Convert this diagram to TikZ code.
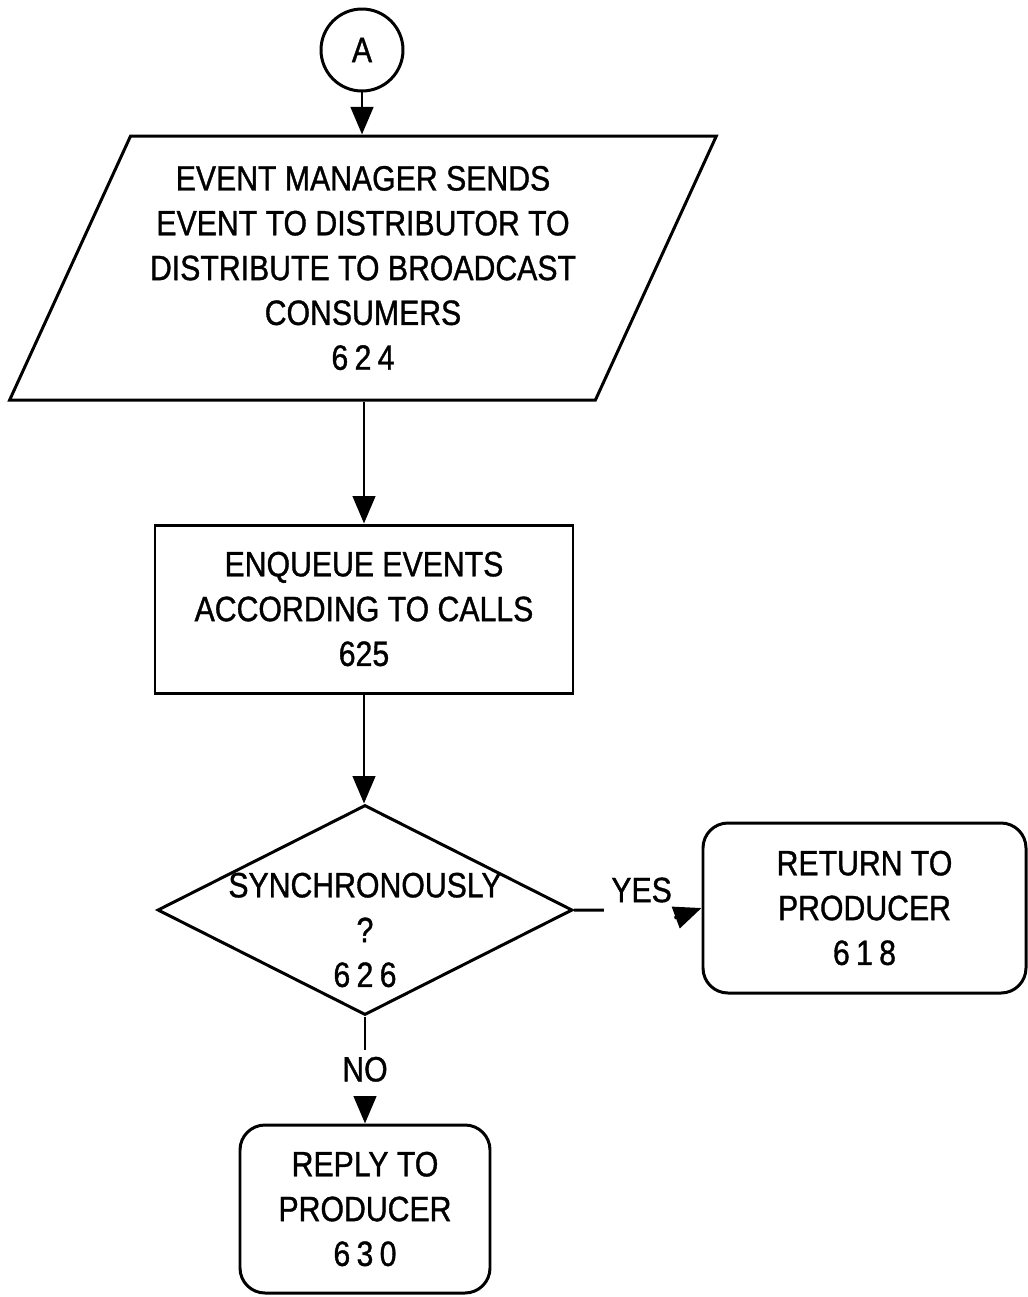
\documentclass[tikz,border=0pt]{standalone}
\usepackage{fontspec}
\setmainfont{Liberation Sans}[FakeStretch=0.86,FakeBold=1]
\usepackage{tikz}
\usetikzlibrary{shapes.geometric,arrows.meta}

\newcommand{\spacednum}[1]{{\addfontfeature{LetterSpace=18}#1}}

\begin{document}
\begin{tikzpicture}[
    line width=1.7pt,
    font=\fontsize{20}{25.5}\selectfont,
    arr/.style={-{Triangle[length=0.55cm,width=0.45cm]}},
    io/.style={trapezium,trapezium left angle=61.5,trapezium right angle=118.5,
      trapezium stretches=true,draw,align=center,inner sep=0pt},
    proc/.style={rectangle,draw,align=center,inner sep=0pt},
    term/.style={rectangle,rounded corners=0.5cm,draw,align=center,inner sep=0pt},
    decision/.style={diamond,draw,inner sep=0pt}
  ]
      \useasboundingbox (0,0) rectangle (20.56,-25.94);

      \node[circle,draw=black,minimum size=1.64cm,inner sep=0pt] (conn) at (7.24,-1.0){A};
      \node[io,minimum width=14.2cm,minimum height=5.28cm] (send) at (7.26,-5.36)
        {EVENT MANAGER SENDS\\EVENT TO DISTRIBUTOR TO\\DISTRIBUTE TO BROADCAST\\CONSUMERS\\\spacednum{624}};
      \node[proc,minimum width=8.36cm,minimum height=3.36cm] (enq) at (7.28,-12.18)
        {ENQUEUE EVENTS\\ACCORDING TO CALLS\\625};
      \node[decision,minimum width=8.3cm,minimum height=4.2cm,
        label={[yshift=-0.4cm,align=center]center:SYNCHRONOUSLY\\?\\\spacednum{626}}] (sync) at (7.3,-18.2){};
      \node[term,minimum width=6.46cm,minimum height=3.4cm] (ret) at (17.29,-18.16)
        {RETURN TO\\PRODUCER\\\spacednum{618}};
      \node[term,minimum width=5cm,minimum height=3.36cm] (reply) at (7.3,-24.18)
        {REPLY TO\\PRODUCER\\\spacednum{630}};

      \draw[arr] (conn) -- (conn |- send.north);
      \draw[arr] (send.south -| enq.north) -- (enq);
      \draw[arr] (enq) -- (enq |- sync.north);
      \draw[arr] (sync.east) -- ++(0.6,0) node[anchor=west,yshift=0.4cm]{YES} ++(1.41,-0.16) -- (ret.west);
      \draw[arr] (sync.south) -- ++(0,-0.66) node[anchor=north]{NO} ++(0,-0.94) -- (reply);
    \end{tikzpicture}
\end{document}
